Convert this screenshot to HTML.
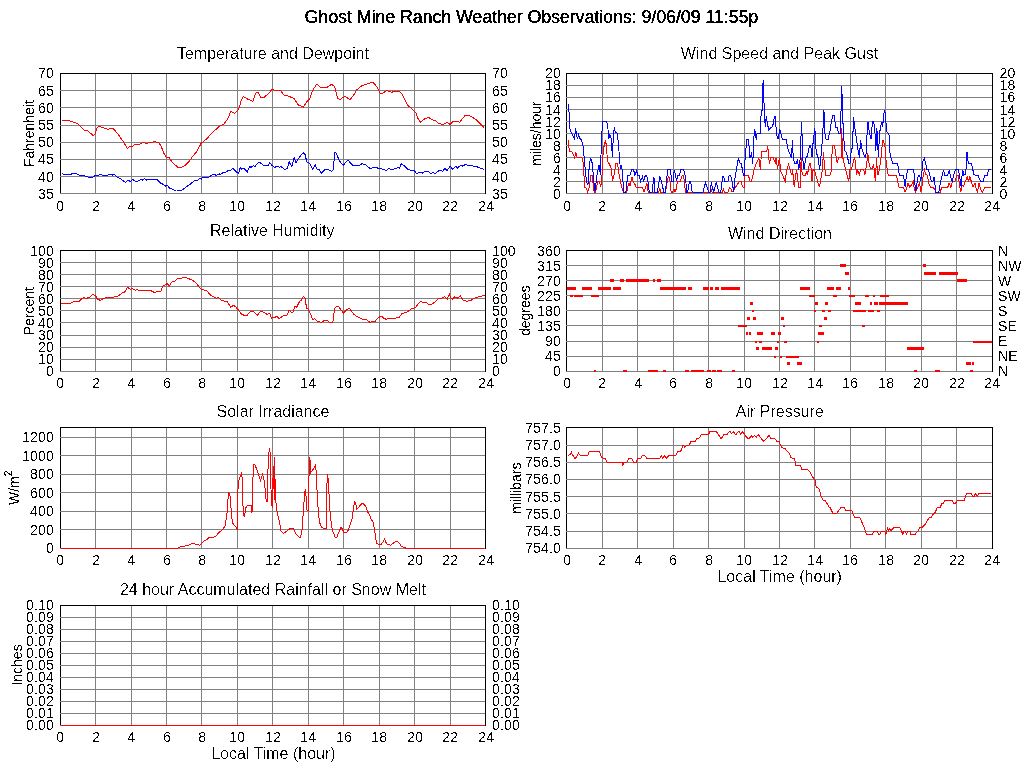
<!DOCTYPE html><html><head><meta charset="utf-8"><title>Ghost Mine Ranch Weather Observations</title>
<style>html,body{margin:0;padding:0;background:#fff}svg{display:block}text{font-family:"Liberation Sans",sans-serif;fill:#000}</style></head><body>
<svg width="1024" height="768" viewBox="0 0 1024 768">
<rect width="1024" height="768" fill="#fff"/>
<defs><filter id="th" x="0" y="0" width="1024" height="768" filterUnits="userSpaceOnUse" color-interpolation-filters="sRGB"><feComponentTransfer><feFuncA type="discrete" tableValues="0 0 0 1 1"/></feComponentTransfer></filter><filter id="thT" x="0" y="0" width="1024" height="768" filterUnits="userSpaceOnUse" color-interpolation-filters="sRGB"><feComponentTransfer><feFuncA type="discrete" tableValues="0 0 0 1 1"/></feComponentTransfer></filter><filter id="th14" x="0" y="0" width="1024" height="768" filterUnits="userSpaceOnUse" color-interpolation-filters="sRGB"><feComponentTransfer><feFuncA type="discrete" tableValues="0 0 0 0 0 0 0 0 0 0 0 1 1 1 1 1 1 1 1 1"/></feComponentTransfer></filter><filter id="thv" x="-50" y="-20" width="100" height="30" filterUnits="userSpaceOnUse" color-interpolation-filters="sRGB"><feComponentTransfer><feFuncA type="discrete" tableValues="0 1"/></feComponentTransfer></filter></defs>
<g stroke="#000" stroke-width="1" shape-rendering="crispEdges" fill="none"><line x1="60.5" y1="73.0" x2="60.5" y2="194.0"/></g>
<g stroke="#808080" stroke-width="1" shape-rendering="crispEdges">
<line x1="95.5" y1="73.5" x2="95.5" y2="193.5"/>
<line x1="131.5" y1="73.5" x2="131.5" y2="193.5"/>
<line x1="166.5" y1="73.5" x2="166.5" y2="193.5"/>
<line x1="201.5" y1="73.5" x2="201.5" y2="193.5"/>
<line x1="237.5" y1="73.5" x2="237.5" y2="193.5"/>
<line x1="272.5" y1="73.5" x2="272.5" y2="193.5"/>
<line x1="308.5" y1="73.5" x2="308.5" y2="193.5"/>
<line x1="343.5" y1="73.5" x2="343.5" y2="193.5"/>
<line x1="379.5" y1="73.5" x2="379.5" y2="193.5"/>
<line x1="414.5" y1="73.5" x2="414.5" y2="193.5"/>
<line x1="450.5" y1="73.5" x2="450.5" y2="193.5"/>
<line x1="60.0" y1="90.5" x2="485.5" y2="90.5"/>
<line x1="60.0" y1="107.5" x2="485.5" y2="107.5"/>
<line x1="60.0" y1="125.5" x2="485.5" y2="125.5"/>
<line x1="60.0" y1="142.5" x2="485.5" y2="142.5"/>
<line x1="60.0" y1="159.5" x2="485.5" y2="159.5"/>
<line x1="60.0" y1="176.5" x2="485.5" y2="176.5"/>
<line x1="60.0" y1="193.5" x2="485.5" y2="193.5"/>
</g>
<g stroke="#000" stroke-width="1" shape-rendering="crispEdges" fill="none">
<polyline points="60.0,73.5 485.5,73.5 485.5,194.0"/>
</g>
<polyline points="62.25,173.56 63.81,174.66 70.06,174.66 72.41,173.56 73.97,174.03 76.31,173.56 79.44,175.12 84.91,175.91 88.81,177.47 93.5,177.0 95.06,175.44 98.97,175.12 100.53,174.34 102.88,175.44 107.56,175.12 109.91,174.34 112.25,175.12 114.12,174.34 117.72,177.47 121.62,179.5 125.53,182.47 128.19,180.28 130.22,181.38 132.56,179.5 134.91,180.91 137.25,181.38 141.16,179.5 142.72,180.12 144.59,178.56 146.62,180.12 149.75,179.19 153.66,179.5 156.78,179.19 160.69,183.25 163.03,184.19 165.38,186.06 167.25,185.28 169.28,187.94 172.41,189.19 176.0,191.06 181.78,190.44 185.69,187.31 190.38,184.19 194.28,180.59 197.41,180.28 199.75,178.25 201.31,179.19 202.09,177.47 206.0,177.0 209.12,177.0 212.25,174.66 215.69,174.34 216.0,175.44 219.12,173.88 220.69,174.34 223.81,172.0 226.16,172.0 228.5,170.44 230.84,170.12 232.88,168.41 235.53,171.22 238.66,173.56 240.22,167.62 241.78,169.19 243.81,168.09 247.25,172.0 249.59,166.53 251.16,167.31 253.5,165.75 255.06,166.53 257.41,163.41 259.75,162.31 263.66,165.44 268.34,165.44 269.91,162.62 271.47,164.97 274.59,167.31 277.72,166.22 279.28,167.31 280.84,166.22 283.97,169.19 287.09,168.88 289.12,161.84 291.78,166.53 294.12,157.16 296.0,162.94 298.81,157.94 303.19,152.47 305.38,154.81 306.62,161.84 309.75,163.41 312.56,169.19 315.22,164.66 316.78,168.88 319.12,169.66 321.47,173.25 324.59,169.66 327.72,169.66 331.62,171.22 333.19,169.66 334.75,152.47 336.31,153.25 339.44,161.06 343.34,165.28 347.25,160.59 348.81,161.06 352.72,165.28 359.75,165.28 362.09,163.72 365.22,164.5 369.91,168.41 375.69,167.31 376.0,167.62 379.12,168.41 383.03,169.19 386.16,170.44 388.5,168.56 391.62,169.66 395.53,168.56 397.88,167.62 399.44,168.09 401.47,163.41 404.12,165.75 408.03,169.66 410.38,170.12 414.28,170.44 416.62,173.56 421.31,172.0 422.88,173.25 425.22,171.22 428.34,171.53 430.69,173.56 433.03,172.47 435.06,173.56 438.5,170.91 441.62,170.44 442.41,171.53 444.75,168.41 447.09,170.44 450.22,166.22 452.56,169.19 455.69,166.22 457.25,168.09 461.16,164.97 462.72,166.22 465.06,164.5 468.19,165.44 471.31,165.44 473.66,166.22 477.56,167.0 481.47,168.41 483.81,169.34" fill="none" stroke="#0000ff" stroke-width="1" shape-rendering="crispEdges" stroke-linejoin="miter"/>
<polyline points="62.25,120.44 67.72,120.44 71.62,121.53 77.09,123.25 84.12,130.12 87.25,130.44 93.19,135.59 95.06,133.72 96.94,128.25 98.97,126.22 102.88,127.78 107.56,129.34 112.56,128.25 114.59,130.12 118.5,134.81 123.19,141.53 127.56,148.56 129.44,146.53 132.56,146.22 134.91,144.34 138.03,145.12 142.72,142.62 146.62,143.41 151.31,142.31 154.75,141.53 159.12,143.09 161.47,147.0 163.81,153.25 166.16,157.16 169.28,157.62 172.41,162.62 177.88,167.31 181.78,167.31 185.69,164.97 189.59,161.06 191.94,157.16 196.62,151.69 201.31,143.09 206.0,139.5 210.69,134.5 215.69,129.34 216.0,129.5 219.91,125.91 223.81,124.34 227.72,118.88 230.84,111.38 234.44,113.41 237.88,110.28 239.44,107.16 241.31,100.12 243.34,96.53 247.25,98.88 252.72,101.38 255.84,93.09 258.19,92.31 260.53,97.0 264.44,97.0 268.34,93.88 271.94,89.19 275.38,90.44 280.06,89.97 283.97,95.12 288.66,96.22 294.12,98.56 298.03,104.81 303.5,107.16 306.62,101.69 309.75,98.56 312.88,89.97 316.78,84.19 320.69,87.31 326.94,87.31 331.62,84.19 334.75,86.84 337.56,98.56 340.22,99.34 344.91,96.22 350.06,99.66 353.5,95.44 356.62,89.97 361.31,86.06 366.78,84.19 372.25,82.16 375.69,84.81 376.0,86.06 377.56,87.62 379.91,93.09 383.03,93.09 386.94,90.44 391.62,92.31 395.53,91.06 399.44,91.22 401.78,93.88 404.91,100.12 408.03,105.59 411.94,108.72 415.84,112.94 418.19,118.88 420.53,122.31 423.66,119.34 428.34,117.31 432.25,119.66 435.38,120.75 438.5,123.25 443.19,124.66 447.09,122.31 450.22,124.66 452.56,121.69 457.25,121.22 459.59,122.31 465.06,115.44 468.19,115.28 472.09,117.0 476.0,119.66 479.91,123.56 483.81,127.47" fill="none" stroke="#ff0000" stroke-width="1" shape-rendering="crispEdges" stroke-linejoin="miter"/>
<g stroke="#000" stroke-width="1" shape-rendering="crispEdges" fill="none"><line x1="566.5" y1="73.0" x2="566.5" y2="194.0"/></g>
<g stroke="#808080" stroke-width="1" shape-rendering="crispEdges">
<line x1="602.5" y1="73.5" x2="602.5" y2="193.5"/>
<line x1="637.5" y1="73.5" x2="637.5" y2="193.5"/>
<line x1="673.5" y1="73.5" x2="673.5" y2="193.5"/>
<line x1="708.5" y1="73.5" x2="708.5" y2="193.5"/>
<line x1="744.5" y1="73.5" x2="744.5" y2="193.5"/>
<line x1="779.5" y1="73.5" x2="779.5" y2="193.5"/>
<line x1="814.5" y1="73.5" x2="814.5" y2="193.5"/>
<line x1="850.5" y1="73.5" x2="850.5" y2="193.5"/>
<line x1="885.5" y1="73.5" x2="885.5" y2="193.5"/>
<line x1="921.5" y1="73.5" x2="921.5" y2="193.5"/>
<line x1="956.5" y1="73.5" x2="956.5" y2="193.5"/>
<line x1="566.0" y1="85.5" x2="992.5" y2="85.5"/>
<line x1="566.0" y1="97.5" x2="992.5" y2="97.5"/>
<line x1="566.0" y1="109.5" x2="992.5" y2="109.5"/>
<line x1="566.0" y1="121.5" x2="992.5" y2="121.5"/>
<line x1="566.0" y1="133.5" x2="992.5" y2="133.5"/>
<line x1="566.0" y1="145.5" x2="992.5" y2="145.5"/>
<line x1="566.0" y1="157.5" x2="992.5" y2="157.5"/>
<line x1="566.0" y1="169.5" x2="992.5" y2="169.5"/>
<line x1="566.0" y1="181.5" x2="992.5" y2="181.5"/>
<line x1="566.0" y1="193.5" x2="992.5" y2="193.5"/>
</g>
<g stroke="#000" stroke-width="1" shape-rendering="crispEdges" fill="none">
<polyline points="566.0,73.5 992.5,73.5 992.5,194.0"/>
</g>
<polyline points="568.48,140.21 569.31,151.5 571.93,151.71 574.54,157.45 575.79,152.75 577.15,157.45 581.85,157.77 583.42,163.2 583.94,175.74 584.99,187.24 586.56,188.28 587.6,192.04 589.38,187.24 590.74,175.74 592.51,175.74 593.35,187.24 594.18,192.04 595.44,192.04 597.01,185.15 598.05,181.28 599.62,181.49 600.66,187.24 601.71,181.49 602.75,157.98 603.8,147.53 605.36,140.21 606.41,145.44 607.45,161.11 609.54,164.25 611.11,168.43 612.68,180.97 614.25,173.65 615.81,163.41 617.59,163.41 618.95,173.65 620.52,181.49 622.61,190.37 623.65,192.04 626.79,192.04 627.83,186.71 628.88,183.06 630.13,185.67 631.8,176.79 633.06,180.97 634.83,184.1 636.19,187.24 642.46,187.24 644.03,192.04 645.59,187.24 646.85,183.06 648.21,192.04 658.66,192.04 659.91,188.28 660.75,192.04 665.45,192.04 666.49,187.24 667.54,178.88 668.79,176.79 669.0,176.79 670.04,181.28 671.09,192.04 672.66,192.04 674.02,189.32 675.06,192.04 676.11,189.32 677.36,181.49 680.49,181.28 682.06,175.53 683.63,175.53 684.67,185.15 685.51,192.04 710.8,192.04 711.32,188.8 712.05,192.04 722.29,192.04 723.34,189.32 724.38,192.04 728.04,192.04 729.61,187.76 731.17,189.32 732.22,192.04 734.31,189.32 736.92,185.15 739.01,182.01 741.1,181.28 742.15,185.15 743.19,187.76 744.24,187.76 745.07,175.53 748.41,175.22 749.98,181.28 751.55,181.28 752.59,176.79 754.16,169.47 756.25,163.2 758.86,157.98 760.43,169.47 761.48,151.5 766.7,151.18 767.75,145.96 768.79,157.98 769.52,163.72 770.88,157.45 772.97,157.45 774.54,161.11 775.58,163.72 776.0,157.98 777.57,168.95 778.3,163.2 779.66,157.98 780.39,170.52 782.48,175.22 785.4,181.28 786.45,170.52 788.54,164.25 790.63,171.56 791.67,175.22 792.51,169.47 794.29,187.24 795.33,176.79 796.38,171.56 797.42,174.7 798.47,187.24 800.56,187.24 801.08,157.98 801.91,171.56 803.17,175.22 805.26,175.22 806.83,171.56 807.35,175.22 808.6,168.43 809.65,163.2 810.69,163.72 812.05,181.28 813.1,169.47 814.45,169.47 816.23,176.79 819.36,187.24 821.98,172.61 823.54,152.23 824.28,164.25 825.63,175.22 829.81,175.22 831.17,171.56 832.43,145.44 834.52,145.44 837.13,163.2 838.49,157.98 841.31,157.45 841.62,128.2 842.88,157.98 845.49,168.95 847.06,175.22 848.83,181.28 849.98,169.47 851.44,169.47 852.8,164.25 854.37,157.98 855.41,161.11 856.46,175.22 857.71,170.52 859.28,175.22 860.64,169.47 863.77,169.47 864.82,175.22 866.7,164.25 867.75,152.75 869.0,163.2 870.57,168.43 872.34,168.43 873.7,164.25 875.27,181.28 876.52,157.98 877.36,171.56 878.19,175.22 879.45,169.47 881.02,157.98 882.06,146.48 882.79,145.44 883.0,140.21 884.04,143.35 885.09,147.53 885.93,159.02 887.18,168.95 888.22,175.22 896.58,175.53 898.15,184.1 899.2,187.24 903.38,187.44 904.94,192.04 906.51,189.32 908.08,183.06 909.65,187.24 911.21,185.15 913.3,181.28 914.35,189.32 915.6,192.04 918.01,187.24 919.57,182.01 920.83,192.04 922.18,185.15 923.23,174.7 924.59,169.99 925.84,174.7 927.41,175.22 928.98,184.1 930.54,187.24 933.16,187.44 935.04,189.85 935.77,192.04 940.47,192.04 941.52,187.24 947.79,187.24 949.04,183.06 950.92,187.24 952.49,181.28 955.1,180.97 956.98,175.22 958.44,175.74 959.49,185.15 960.85,192.04 961.89,185.15 963.46,186.19 965.55,180.97 967.12,176.79 968.48,180.97 969.94,176.79 971.3,181.49 972.86,186.71 974.95,183.06 976.52,190.37 977.57,192.04 978.92,183.06 980.7,189.32 982.27,192.04 984.88,187.44 990.63,187.24" fill="none" stroke="#ff0000" stroke-width="1" shape-rendering="crispEdges" stroke-linejoin="miter"/>
<polyline points="568.56,104.03 569.03,112.62 569.52,113.04 569.52,126.63 570.57,131.33 572.45,134.47 574.54,139.17 575.58,128.2 577.46,139.38 578.51,134.15 579.97,138.65 581.33,139.69 582.59,143.35 583.63,150.66 584.47,162.16 585.51,171.56 586.56,182.01 587.91,185.15 589.38,164.25 590.74,157.98 592.51,164.25 593.35,176.79 594.92,191.41 597.01,174.7 599.1,164.77 600.45,174.7 601.5,137.08 602.75,121.61 606.41,121.61 607.66,124.54 608.71,139.38 609.86,134.47 611.11,138.12 612.47,156.93 613.41,131.85 614.46,128.51 615.5,132.38 617.38,133.42 618.43,144.39 619.47,156.93 620.31,168.43 621.35,164.77 622.4,171.56 623.65,192.04 625.95,192.04 627.62,175.53 629.92,175.22 631.8,169.47 633.58,169.47 634.83,175.22 636.5,170.52 637.76,175.22 639.12,175.74 640.58,181.28 642.46,176.79 643.71,180.97 645.28,175.53 646.85,175.74 647.89,181.28 649.25,192.04 652.07,192.04 653.95,176.79 654.79,192.04 657.3,192.04 659.91,176.26 661.27,181.28 663.88,192.04 665.45,192.04 666.49,181.28 667.54,169.99 668.79,169.47 669.0,169.47 670.57,169.47 671.61,181.28 673.18,181.28 674.22,169.99 675.48,174.7 676.52,181.28 677.88,175.53 679.45,175.22 681.02,169.47 683.63,169.47 684.67,172.61 685.72,178.88 686.55,192.04 687.6,192.04 689.38,181.49 690.73,181.49 691.78,190.37 692.82,192.04 702.96,192.04 705.57,182.53 707.14,187.24 708.5,192.04 709.96,192.04 711.32,182.53 712.36,187.24 713.72,192.04 714.98,187.24 716.23,182.53 717.59,187.24 718.95,192.04 720.72,192.04 721.77,183.06 722.81,176.79 723.55,176.79 724.9,181.28 728.04,181.28 729.08,175.74 730.65,175.74 731.7,178.88 732.95,187.24 733.79,192.04 734.62,179.92 735.88,172.61 736.92,166.34 738.49,157.98 740.06,163.2 741.31,163.2 742.67,171.56 743.4,175.53 744.44,175.53 744.76,164.25 745.49,152.75 746.85,139.69 748.41,139.38 748.94,145.44 749.98,157.45 750.71,157.45 751.55,152.23 752.59,163.72 753.43,151.71 753.85,137.6 754.68,128.72 756.25,139.69 756.98,133.94 760.12,133.42 760.12,126.75 761.38,111.12 762.25,110.5 762.62,84.88 763.62,79.88 763.88,103.0 764.5,103.62 765.12,126.75 766.38,116.12 767.25,123.0 768.88,130.5 770.75,127.38 772.62,126.75 774.5,116.12 775.75,116.12 776.0,126.75 776.0,127.67 777.04,136.03 778.3,139.38 779.66,128.72 781.02,134.47 782.48,139.38 786.45,139.38 787.7,148.57 790.11,154.32 791.46,157.45 792.51,140.21 793.24,157.98 794.6,163.2 796.38,163.2 797.42,159.02 798.78,169.47 800.24,157.98 800.87,139.17 801.6,121.93 802.65,153.8 803.38,168.95 804.42,168.95 805.47,159.02 807.35,155.89 809.65,145.44 810.69,145.44 812.05,156.93 813.1,142.3 814.87,128.51 816.23,153.27 817.8,155.89 819.68,169.47 820.93,156.93 821.98,144.39 823.02,127.67 823.5,109.88 824.38,113.62 824.62,126.75 824.9,133.42 826.16,139.38 828.04,139.38 829.81,131.85 831.38,121.93 832.95,115.66 834.31,115.66 835.56,127.67 837.13,127.67 838.7,133.42 840.58,133.42 841.5,86.12 842.25,97.38 842.75,123.0 843.75,123.0 843.92,140.21 844.97,151.18 846.53,152.75 848.83,163.2 849.98,163.2 851.03,152.75 852.49,146.48 853.53,116.7 854.89,127.67 856.46,139.38 858.55,153.8 859.59,157.45 860.43,140.21 861.89,148.57 864.82,156.93 865.86,157.45 866.7,139.38 867.95,121.93 869.52,133.42 871.3,139.38 872.34,121.93 873.7,121.93 874.75,127.67 875.79,151.18 876.84,128.2 878.4,157.45 879.45,133.94 881.02,124.54 882.06,121.93 882.79,126.63 883.5,114.88 884.75,109.88 885.62,115.5 886.0,123.0 886.97,131.85 888.22,133.42 889.48,136.56 889.79,152.23 890.84,157.45 892.93,163.2 897.42,163.41 898.67,168.43 899.2,175.22 903.38,175.53 904.42,180.97 905.15,187.24 905.99,178.88 907.56,169.47 913.3,169.47 914.35,175.22 915.39,190.37 916.23,189.32 917.48,178.88 918.74,175.22 919.78,175.53 920.62,181.28 921.87,172.61 922.71,162.16 924.27,157.98 925.84,164.25 926.89,169.26 928.45,169.47 929.81,174.7 931.28,181.28 932.95,181.28 934.2,176.79 935.04,185.15 935.77,192.04 938.9,192.04 939.95,185.15 941.31,178.88 942.56,173.65 943.61,169.99 944.86,175.53 947.58,175.22 949.04,170.52 950.92,177.83 952.17,181.28 954.06,173.65 955.62,169.47 958.24,169.47 959.28,173.65 960.32,180.97 961.16,187.24 961.89,176.79 962.94,170.52 963.67,175.22 965.03,174.7 966.07,168.95 966.59,152.75 967.43,152.23 968.16,163.2 971.3,163.41 972.34,167.38 973.91,174.7 978.09,175.53 979.34,178.88 980.39,181.28 983.1,181.28 984.88,175.53 987.49,175.22 988.54,169.47 990.63,169.26" fill="none" stroke="#0000ff" stroke-width="1" shape-rendering="crispEdges" stroke-linejoin="miter"/>
<g stroke="#000" stroke-width="1" shape-rendering="crispEdges" fill="none"><line x1="60.5" y1="250.0" x2="60.5" y2="372.0"/></g>
<g stroke="#808080" stroke-width="1" shape-rendering="crispEdges">
<line x1="95.5" y1="250.5" x2="95.5" y2="371.5"/>
<line x1="131.5" y1="250.5" x2="131.5" y2="371.5"/>
<line x1="166.5" y1="250.5" x2="166.5" y2="371.5"/>
<line x1="201.5" y1="250.5" x2="201.5" y2="371.5"/>
<line x1="237.5" y1="250.5" x2="237.5" y2="371.5"/>
<line x1="272.5" y1="250.5" x2="272.5" y2="371.5"/>
<line x1="308.5" y1="250.5" x2="308.5" y2="371.5"/>
<line x1="343.5" y1="250.5" x2="343.5" y2="371.5"/>
<line x1="379.5" y1="250.5" x2="379.5" y2="371.5"/>
<line x1="414.5" y1="250.5" x2="414.5" y2="371.5"/>
<line x1="450.5" y1="250.5" x2="450.5" y2="371.5"/>
<line x1="60.0" y1="262.5" x2="485.5" y2="262.5"/>
<line x1="60.0" y1="274.5" x2="485.5" y2="274.5"/>
<line x1="60.0" y1="286.5" x2="485.5" y2="286.5"/>
<line x1="60.0" y1="298.5" x2="485.5" y2="298.5"/>
<line x1="60.0" y1="310.5" x2="485.5" y2="310.5"/>
<line x1="60.0" y1="322.5" x2="485.5" y2="322.5"/>
<line x1="60.0" y1="335.5" x2="485.5" y2="335.5"/>
<line x1="60.0" y1="347.5" x2="485.5" y2="347.5"/>
<line x1="60.0" y1="359.5" x2="485.5" y2="359.5"/>
<line x1="60.0" y1="371.5" x2="485.5" y2="371.5"/>
</g>
<g stroke="#000" stroke-width="1" shape-rendering="crispEdges" fill="none">
<polyline points="60.0,250.5 485.5,250.5 485.5,372.0"/>
</g>
<polyline points="61.47,303.44 70.06,303.44 74.75,301.41 79.44,301.09 83.34,297.5 86.47,298.28 89.59,297.5 92.72,294.38 95.84,296.25 97.41,299.38 100.53,300.31 103.66,298.28 108.34,297.5 112.25,297.97 114.59,296.72 118.5,295.94 122.41,292.81 124.75,292.03 127.56,287.34 130.22,289.38 132.56,288.44 134.91,290.16 137.25,289.69 141.94,290.94 145.84,290.16 148.19,290.94 150.53,290.47 154.44,292.5 157.56,291.72 160.69,291.72 163.03,285.78 165.38,284.69 167.25,283.44 169.28,286.25 171.62,282.19 174.75,281.09 177.09,278.75 181.0,278.44 184.91,277.19 188.81,278.75 192.72,280.31 195.84,282.66 198.97,286.88 201.31,289.38 204.44,290.16 206.78,290.94 210.69,295.16 215.69,297.81 216.0,298.28 218.34,297.5 221.47,300.62 226.94,301.41 230.84,307.34 233.19,305.31 235.53,306.56 238.66,310.31 241.78,314.38 244.91,315.47 247.25,315.16 250.38,311.56 253.5,311.25 257.41,315.47 260.53,311.25 263.66,312.34 266.78,314.22 269.91,313.59 271.47,318.12 274.59,317.5 276.94,316.25 279.28,318.59 282.41,316.25 287.09,315.0 289.12,310.31 291.78,312.34 293.34,311.88 294.91,306.09 296.47,307.66 299.59,301.41 301.16,300.62 303.5,296.41 305.06,298.28 306.62,308.44 308.19,309.22 310.53,313.91 312.56,319.38 314.75,318.59 317.56,321.72 321.47,322.19 324.59,320.47 326.94,320.47 329.28,322.19 332.88,322.19 334.44,309.22 336.31,306.41 338.66,306.41 343.34,313.12 347.25,309.22 349.59,308.75 353.5,313.91 356.62,316.25 361.31,318.91 366.0,319.38 369.91,322.19 375.69,321.41 376.0,320.16 378.34,317.5 381.47,316.25 383.81,318.12 386.16,319.38 389.28,318.28 395.53,318.12 399.44,317.03 401.78,313.91 407.25,312.03 411.16,308.91 415.84,307.34 418.19,303.75 420.53,301.41 422.88,302.5 426.0,302.5 429.12,304.53 432.25,304.06 434.59,302.19 438.5,298.59 442.41,297.97 444.75,296.72 447.09,299.38 449.44,294.06 450.69,297.5 452.56,299.06 454.91,296.72 457.25,298.28 460.38,295.62 462.72,299.84 466.62,301.41 471.31,300.31 473.66,298.28 479.12,296.72 484.59,295.16" fill="none" stroke="#ff0000" stroke-width="1" shape-rendering="crispEdges" stroke-linejoin="miter"/>
<g stroke="#000" stroke-width="1" shape-rendering="crispEdges" fill="none"><line x1="566.5" y1="250.0" x2="566.5" y2="372.0"/></g>
<g stroke="#808080" stroke-width="1" shape-rendering="crispEdges">
<line x1="602.5" y1="250.5" x2="602.5" y2="371.5"/>
<line x1="637.5" y1="250.5" x2="637.5" y2="371.5"/>
<line x1="673.5" y1="250.5" x2="673.5" y2="371.5"/>
<line x1="708.5" y1="250.5" x2="708.5" y2="371.5"/>
<line x1="744.5" y1="250.5" x2="744.5" y2="371.5"/>
<line x1="779.5" y1="250.5" x2="779.5" y2="371.5"/>
<line x1="814.5" y1="250.5" x2="814.5" y2="371.5"/>
<line x1="850.5" y1="250.5" x2="850.5" y2="371.5"/>
<line x1="885.5" y1="250.5" x2="885.5" y2="371.5"/>
<line x1="921.5" y1="250.5" x2="921.5" y2="371.5"/>
<line x1="956.5" y1="250.5" x2="956.5" y2="371.5"/>
<line x1="566.0" y1="265.5" x2="992.5" y2="265.5"/>
<line x1="566.0" y1="280.5" x2="992.5" y2="280.5"/>
<line x1="566.0" y1="295.5" x2="992.5" y2="295.5"/>
<line x1="566.0" y1="310.5" x2="992.5" y2="310.5"/>
<line x1="566.0" y1="325.5" x2="992.5" y2="325.5"/>
<line x1="566.0" y1="341.5" x2="992.5" y2="341.5"/>
<line x1="566.0" y1="356.5" x2="992.5" y2="356.5"/>
<line x1="566.0" y1="371.5" x2="992.5" y2="371.5"/>
</g>
<g stroke="#000" stroke-width="1" shape-rendering="crispEdges" fill="none">
<polyline points="566.0,250.5 992.5,250.5 992.5,372.0"/>
</g>
<g fill="#ff0000" shape-rendering="crispEdges">
<rect x="610" y="279" width="4" height="3"/>
<rect x="620" y="279" width="4" height="3"/>
<rect x="626" y="279" width="23" height="3"/>
<rect x="653" y="279" width="2" height="3"/>
<rect x="657" y="279" width="4" height="3"/>
<rect x="957" y="279" width="10" height="3"/>
<rect x="567" y="287" width="9" height="3"/>
<rect x="582" y="287" width="10" height="3"/>
<rect x="598" y="287" width="13" height="3"/>
<rect x="613" y="287" width="8" height="3"/>
<rect x="660" y="287" width="26" height="3"/>
<rect x="688" y="287" width="4" height="3"/>
<rect x="703" y="287" width="6" height="3"/>
<rect x="710" y="287" width="3" height="3"/>
<rect x="715" y="287" width="4" height="3"/>
<rect x="721" y="287" width="1" height="3"/>
<rect x="722" y="287" width="18" height="3"/>
<rect x="800" y="287" width="10" height="3"/>
<rect x="827" y="287" width="7" height="3"/>
<rect x="836" y="287" width="5" height="3"/>
<rect x="848" y="287" width="2" height="3"/>
<rect x="570" y="295" width="3" height="2"/>
<rect x="574" y="295" width="9" height="2"/>
<rect x="591" y="295" width="8" height="2"/>
<rect x="809" y="295" width="6" height="2"/>
<rect x="833" y="295" width="4" height="2"/>
<rect x="849" y="295" width="6" height="2"/>
<rect x="865" y="295" width="4" height="2"/>
<rect x="873" y="295" width="2" height="2"/>
<rect x="880" y="295" width="9" height="2"/>
<rect x="594" y="370" width="2" height="2"/>
<rect x="623" y="370" width="4" height="2"/>
<rect x="648" y="370" width="10" height="2"/>
<rect x="663" y="370" width="3" height="2"/>
<rect x="685" y="370" width="4" height="2"/>
<rect x="691" y="370" width="13" height="2"/>
<rect x="707" y="370" width="4" height="2"/>
<rect x="712" y="370" width="4" height="2"/>
<rect x="717" y="370" width="5" height="2"/>
<rect x="732" y="370" width="3" height="2"/>
<rect x="914" y="370" width="3" height="2"/>
<rect x="935" y="370" width="5" height="2"/>
<rect x="970" y="370" width="3" height="2"/>
<rect x="840" y="264" width="6" height="3"/>
<rect x="923" y="264" width="3" height="3"/>
<rect x="845" y="272" width="4" height="3"/>
<rect x="924" y="272" width="12" height="3"/>
<rect x="939" y="272" width="19" height="3"/>
<rect x="750" y="302" width="3" height="3"/>
<rect x="815" y="302" width="3" height="3"/>
<rect x="825" y="302" width="3" height="3"/>
<rect x="855" y="302" width="6" height="3"/>
<rect x="870" y="302" width="2" height="3"/>
<rect x="874" y="302" width="4" height="3"/>
<rect x="879" y="302" width="29" height="3"/>
<rect x="752" y="310" width="2" height="2"/>
<rect x="814" y="310" width="2" height="2"/>
<rect x="822" y="310" width="3" height="2"/>
<rect x="828" y="310" width="3" height="2"/>
<rect x="853" y="310" width="11" height="2"/>
<rect x="864" y="310" width="2" height="2"/>
<rect x="868" y="310" width="6" height="2"/>
<rect x="877" y="310" width="3" height="2"/>
<rect x="747" y="317" width="3" height="3"/>
<rect x="753" y="317" width="3" height="3"/>
<rect x="781" y="317" width="3" height="3"/>
<rect x="824" y="317" width="3" height="3"/>
<rect x="738" y="325" width="9" height="2"/>
<rect x="783" y="325" width="2" height="2"/>
<rect x="819" y="325" width="3" height="2"/>
<rect x="862" y="325" width="2" height="2"/>
<rect x="864" y="325" width="1" height="2"/>
<rect x="746" y="332" width="2" height="3"/>
<rect x="749" y="332" width="2" height="3"/>
<rect x="757" y="332" width="6" height="3"/>
<rect x="771" y="332" width="4" height="3"/>
<rect x="778" y="332" width="3" height="3"/>
<rect x="818" y="332" width="6" height="3"/>
<rect x="755" y="341" width="2" height="2"/>
<rect x="759" y="341" width="3" height="2"/>
<rect x="777" y="341" width="2" height="2"/>
<rect x="784" y="341" width="3" height="2"/>
<rect x="817" y="341" width="2" height="2"/>
<rect x="973" y="341" width="19" height="2"/>
<rect x="756" y="347" width="3" height="3"/>
<rect x="762" y="347" width="10" height="3"/>
<rect x="775" y="347" width="3" height="3"/>
<rect x="907" y="347" width="17" height="3"/>
<rect x="774" y="356" width="2" height="2"/>
<rect x="780" y="356" width="2" height="2"/>
<rect x="786" y="356" width="13" height="2"/>
<rect x="787" y="362" width="3" height="3"/>
<rect x="797" y="362" width="5" height="3"/>
<rect x="966" y="362" width="5" height="3"/>
<rect x="972" y="362" width="2" height="3"/>
</g>
<g stroke="#000" stroke-width="1" shape-rendering="crispEdges" fill="none"><line x1="60.5" y1="427.0" x2="60.5" y2="549.0"/></g>
<g stroke="#808080" stroke-width="1" shape-rendering="crispEdges">
<line x1="95.5" y1="427.5" x2="95.5" y2="548.5"/>
<line x1="131.5" y1="427.5" x2="131.5" y2="548.5"/>
<line x1="166.5" y1="427.5" x2="166.5" y2="548.5"/>
<line x1="201.5" y1="427.5" x2="201.5" y2="548.5"/>
<line x1="237.5" y1="427.5" x2="237.5" y2="548.5"/>
<line x1="272.5" y1="427.5" x2="272.5" y2="548.5"/>
<line x1="308.5" y1="427.5" x2="308.5" y2="548.5"/>
<line x1="343.5" y1="427.5" x2="343.5" y2="548.5"/>
<line x1="379.5" y1="427.5" x2="379.5" y2="548.5"/>
<line x1="414.5" y1="427.5" x2="414.5" y2="548.5"/>
<line x1="450.5" y1="427.5" x2="450.5" y2="548.5"/>
<line x1="60.0" y1="437.5" x2="485.5" y2="437.5"/>
<line x1="60.0" y1="455.5" x2="485.5" y2="455.5"/>
<line x1="60.0" y1="474.5" x2="485.5" y2="474.5"/>
<line x1="60.0" y1="492.5" x2="485.5" y2="492.5"/>
<line x1="60.0" y1="511.5" x2="485.5" y2="511.5"/>
<line x1="60.0" y1="529.5" x2="485.5" y2="529.5"/>
<line x1="60.0" y1="548.5" x2="485.5" y2="548.5"/>
</g>
<g stroke="#000" stroke-width="1" shape-rendering="crispEdges" fill="none">
<polyline points="60.0,427.5 485.5,427.5 485.5,549.0"/>
</g>
<polyline points="61.5,548.0 166.0,548.28 176.94,548.28 181.62,546.41 187.88,545.62 192.56,543.28 195.69,544.38 199.59,545.16 203.5,541.25 207.41,539.06 209.75,537.03 212.09,537.81 216.0,535.94 219.91,531.56 222.25,530.0 225.06,526.09 226.94,514.38 228.03,498.75 228.81,492.5 230.06,496.41 231.31,511.25 232.41,522.97 234.75,525.62 237.09,528.44 237.56,508.12 238.19,482.34 239.44,478.44 241.47,473.75 242.56,480.0 243.03,506.56 243.66,515.94 244.59,516.72 245.69,508.12 247.25,505.78 248.81,505.47 251.16,505.78 251.62,512.03 252.41,511.25 252.72,484.69 253.5,464.38 254.75,464.38 256.62,469.06 258.97,476.09 260.53,480.31 262.56,474.53 264.12,480.0 265.22,490.16 266.31,501.88 267.25,501.88 267.88,472.19 268.66,454.22 269.44,448.44 270.38,455.0 271.0,489.38 271.94,505.78 272.56,508.12 273.19,467.5 273.81,466.72 274.12,499.53 274.44,456.56 275.06,480.0 276.16,506.56 277.72,515.16 279.28,520.62 280.84,530.78 283.19,533.44 286.31,531.56 290.22,528.44 293.34,528.44 295.69,533.91 298.03,535.94 299.59,537.5 300.0,538.12 301.88,531.56 303.12,514.38 304.69,492.5 305.47,489.38 306.25,498.75 307.03,510.47 308.12,510.47 308.91,481.56 309.38,457.34 310.31,461.25 310.94,472.19 313.28,469.06 315.31,465.16 316.41,472.19 317.19,495.62 318.28,511.25 319.53,522.19 321.41,526.88 323.44,528.44 326.25,528.44 326.56,489.38 327.66,474.53 328.59,484.69 329.69,508.12 331.25,523.75 332.81,531.56 335.16,537.03 337.03,537.03 339.06,531.56 340.94,527.66 342.19,528.44 343.75,532.34 346.88,532.34 348.44,530.0 350.0,525.31 352.34,517.5 353.91,505.0 354.69,502.19 355.78,503.44 356.56,508.91 358.59,507.34 361.72,503.44 364.06,504.22 366.41,507.34 367.19,511.25 369.53,515.16 371.09,519.06 373.44,522.97 375.0,533.12 376.56,543.28 378.91,544.38 381.25,544.06 383.59,540.94 384.69,538.59 385.94,542.5 387.5,544.38 390.62,545.31 394.53,542.19 396.88,541.25 399.22,543.28 401.56,546.41 406.25,548.28 484.0,548.3" fill="none" stroke="#ff0000" stroke-width="1" shape-rendering="crispEdges" stroke-linejoin="miter"/>
<g stroke="#000" stroke-width="1" shape-rendering="crispEdges" fill="none"><line x1="566.5" y1="427.0" x2="566.5" y2="549.0"/></g>
<g stroke="#808080" stroke-width="1" shape-rendering="crispEdges">
<line x1="602.5" y1="427.5" x2="602.5" y2="548.5"/>
<line x1="637.5" y1="427.5" x2="637.5" y2="548.5"/>
<line x1="673.5" y1="427.5" x2="673.5" y2="548.5"/>
<line x1="708.5" y1="427.5" x2="708.5" y2="548.5"/>
<line x1="744.5" y1="427.5" x2="744.5" y2="548.5"/>
<line x1="779.5" y1="427.5" x2="779.5" y2="548.5"/>
<line x1="814.5" y1="427.5" x2="814.5" y2="548.5"/>
<line x1="850.5" y1="427.5" x2="850.5" y2="548.5"/>
<line x1="885.5" y1="427.5" x2="885.5" y2="548.5"/>
<line x1="921.5" y1="427.5" x2="921.5" y2="548.5"/>
<line x1="956.5" y1="427.5" x2="956.5" y2="548.5"/>
<line x1="566.0" y1="445.5" x2="992.5" y2="445.5"/>
<line x1="566.0" y1="462.5" x2="992.5" y2="462.5"/>
<line x1="566.0" y1="479.5" x2="992.5" y2="479.5"/>
<line x1="566.0" y1="496.5" x2="992.5" y2="496.5"/>
<line x1="566.0" y1="513.5" x2="992.5" y2="513.5"/>
<line x1="566.0" y1="531.5" x2="992.5" y2="531.5"/>
<line x1="566.0" y1="548.5" x2="992.5" y2="548.5"/>
</g>
<g stroke="#000" stroke-width="1" shape-rendering="crispEdges" fill="none">
<polyline points="566.0,427.5 992.5,427.5 992.5,549.0"/>
</g>
<polyline points="568.25,455.47 569.81,454.69 571.38,452.34 572.94,455.47 574.81,458.59 576.38,457.03 578.41,452.81 579.97,455.0 581.53,455.47 587.78,455.47 589.34,451.56 599.5,451.56 601.84,457.81 604.97,458.28 607.0,462.19 622.16,462.19 622.94,465.31 623.72,462.5 626.84,462.19 628.88,458.28 631.53,458.28 633.88,462.19 636.22,462.19 637.78,458.59 640.91,458.28 642.47,455.47 644.81,455.47 646.69,458.28 659.66,458.28 661.22,455.47 662.78,458.28 664.34,455.47 666.38,458.28 669.03,455.47 676.06,455.16 677.94,451.56 680.75,451.25 683.09,445.31 684.97,447.34 686.22,445.31 689.34,445.0 690.91,441.41 695.59,441.09 696.69,438.28 699.5,437.97 701.38,434.69 705.44,434.53 706.0,434.69 708.66,434.38 709.91,431.25 716.16,431.25 718.5,434.69 721.16,438.59 723.97,434.69 727.09,434.38 729.75,431.25 731.78,433.59 733.34,431.56 735.69,434.69 738.81,431.25 740.69,434.06 742.72,431.56 745.06,435.16 747.88,438.59 749.75,437.97 751.62,435.62 752.88,437.19 754.75,435.62 756.31,437.19 758.34,434.69 760.69,437.81 763.81,441.41 766.16,439.06 768.97,435.16 770.84,438.28 774.75,438.59 777.09,441.41 779.12,441.72 781.78,447.66 784.91,448.44 787.25,451.56 788.81,452.34 791.16,457.81 794.75,458.59 795.38,465.31 800.53,465.62 801.62,469.22 807.56,469.53 810.38,472.66 813.81,478.91 814.91,479.69 816.16,486.72 819.28,489.06 821.31,496.88 822.88,500.0 825.53,500.78 828.66,506.56 830.22,507.81 832.88,513.28 836.94,513.28 838.81,510.16 841.16,507.34 844.28,507.34 845.84,510.16 849.44,510.31 850.0,510.31 851.88,510.78 854.38,517.34 859.69,517.66 862.19,522.81 864.38,527.81 866.41,534.22 872.66,534.22 873.75,531.41 877.34,531.41 878.59,534.22 880.0,534.22 881.25,531.41 884.69,531.41 885.94,534.22 887.5,528.28 888.59,530.62 889.84,528.28 890.94,530.62 893.75,527.5 899.69,527.5 901.56,531.41 902.66,534.22 903.91,531.41 905.47,531.88 906.56,534.22 907.81,531.41 910.16,531.41 910.94,534.22 915.31,534.22 917.19,531.41 918.44,530.62 919.84,527.5 922.19,527.5 925.78,523.59 928.91,517.81 931.25,517.34 933.59,513.75 935.16,512.66 937.19,507.5 940.31,507.19 941.88,503.59 943.44,503.28 945.0,500.47 952.34,500.47 953.91,503.59 955.47,503.59 957.03,500.62 964.06,500.47 966.41,493.44 971.09,493.44 972.66,496.25 974.22,496.25 975.47,493.44 977.34,496.25 978.91,493.44 990.62,493.44" fill="none" stroke="#ff0000" stroke-width="1" shape-rendering="crispEdges" stroke-linejoin="miter"/>
<g stroke="#000" stroke-width="1" shape-rendering="crispEdges" fill="none"><line x1="60.5" y1="605.0" x2="60.5" y2="726.0"/></g>
<g stroke="#808080" stroke-width="1" shape-rendering="crispEdges">
<line x1="95.5" y1="605.5" x2="95.5" y2="725.5"/>
<line x1="131.5" y1="605.5" x2="131.5" y2="725.5"/>
<line x1="166.5" y1="605.5" x2="166.5" y2="725.5"/>
<line x1="201.5" y1="605.5" x2="201.5" y2="725.5"/>
<line x1="237.5" y1="605.5" x2="237.5" y2="725.5"/>
<line x1="272.5" y1="605.5" x2="272.5" y2="725.5"/>
<line x1="308.5" y1="605.5" x2="308.5" y2="725.5"/>
<line x1="343.5" y1="605.5" x2="343.5" y2="725.5"/>
<line x1="379.5" y1="605.5" x2="379.5" y2="725.5"/>
<line x1="414.5" y1="605.5" x2="414.5" y2="725.5"/>
<line x1="450.5" y1="605.5" x2="450.5" y2="725.5"/>
<line x1="60.0" y1="617.5" x2="485.5" y2="617.5"/>
<line x1="60.0" y1="629.5" x2="485.5" y2="629.5"/>
<line x1="60.0" y1="641.5" x2="485.5" y2="641.5"/>
<line x1="60.0" y1="653.5" x2="485.5" y2="653.5"/>
<line x1="60.0" y1="665.5" x2="485.5" y2="665.5"/>
<line x1="60.0" y1="677.5" x2="485.5" y2="677.5"/>
<line x1="60.0" y1="689.5" x2="485.5" y2="689.5"/>
<line x1="60.0" y1="701.5" x2="485.5" y2="701.5"/>
<line x1="60.0" y1="713.5" x2="485.5" y2="713.5"/>
<line x1="60.0" y1="725.5" x2="485.5" y2="725.5"/>
</g>
<g stroke="#000" stroke-width="1" shape-rendering="crispEdges" fill="none">
<polyline points="60.0,605.5 485.5,605.5 485.5,726.0"/>
</g>
<polyline points="61,725.5 485,725.5" fill="none" stroke="#ff0000" stroke-width="1" shape-rendering="crispEdges" stroke-linejoin="miter"/>
<g filter="url(#thT)"><text x="531.1" y="22.5" font-size="17.7" text-anchor="middle">Ghost Mine Ranch Weather Observations: 9/06/09 11:55p</text><text x="531.9" y="22.5" font-size="17.7" text-anchor="middle">Ghost Mine Ranch Weather Observations: 9/06/09 11:55p</text></g>
<g filter="url(#th)">
<text x="273" y="59" font-size="16" text-anchor="middle" >Temperature and Dewpoint</text>
<text x="779.6" y="59" font-size="16" text-anchor="middle" >Wind Speed and Peak Gust</text>
<text x="272.3" y="235.7" font-size="16" text-anchor="middle" >Relative Humidity</text>
<text x="780" y="238.75" font-size="16" text-anchor="middle" >Wind Direction</text>
<text x="273" y="417" font-size="16" text-anchor="middle" >Solar Irradiance</text>
<text x="779.8" y="417" font-size="16" text-anchor="middle" >Air Pressure</text>
<text x="779.7" y="581.7" font-size="16" text-anchor="middle" >Local Time (hour)</text>
<text x="272.9" y="594.5" font-size="16" text-anchor="middle" >24 hour Accumulated Rainfall or Snow Melt</text>
<text x="273.4" y="758.6" font-size="16" text-anchor="middle" >Local Time (hour)</text>
</g>
<g filter="url(#th14)">
<text x="54" y="78" font-size="14" text-anchor="end" letter-spacing="0.2" >70</text>
<text x="491.9" y="78" font-size="14" text-anchor="start" letter-spacing="0.2" >70</text>
<text x="54" y="96" font-size="14" text-anchor="end" letter-spacing="0.2" >65</text>
<text x="491.9" y="96" font-size="14" text-anchor="start" letter-spacing="0.2" >65</text>
<text x="54" y="113" font-size="14" text-anchor="end" letter-spacing="0.2" >60</text>
<text x="491.9" y="113" font-size="14" text-anchor="start" letter-spacing="0.2" >60</text>
<text x="54" y="130" font-size="14" text-anchor="end" letter-spacing="0.2" >55</text>
<text x="491.9" y="130" font-size="14" text-anchor="start" letter-spacing="0.2" >55</text>
<text x="54" y="147" font-size="14" text-anchor="end" letter-spacing="0.2" >50</text>
<text x="491.9" y="147" font-size="14" text-anchor="start" letter-spacing="0.2" >50</text>
<text x="54" y="164" font-size="14" text-anchor="end" letter-spacing="0.2" >45</text>
<text x="491.9" y="164" font-size="14" text-anchor="start" letter-spacing="0.2" >45</text>
<text x="54" y="182" font-size="14" text-anchor="end" letter-spacing="0.2" >40</text>
<text x="491.9" y="182" font-size="14" text-anchor="start" letter-spacing="0.2" >40</text>
<text x="54" y="199" font-size="14" text-anchor="end" letter-spacing="0.2" >35</text>
<text x="491.9" y="199" font-size="14" text-anchor="start" letter-spacing="0.2" >35</text>
<text x="56.35" y="210.5" font-size="14" text-anchor="start" letter-spacing="0.21">0</text>
<text x="92.35" y="210.5" font-size="14" text-anchor="start" letter-spacing="0.21">2</text>
<text x="127.35" y="210.5" font-size="14" text-anchor="start" letter-spacing="0.21">4</text>
<text x="163.35" y="210.5" font-size="14" text-anchor="start" letter-spacing="0.21">6</text>
<text x="198.35" y="210.5" font-size="14" text-anchor="start" letter-spacing="0.21">8</text>
<text x="229.35" y="210.5" font-size="14" text-anchor="start" letter-spacing="0.21">10</text>
<text x="265.35" y="210.5" font-size="14" text-anchor="start" letter-spacing="0.21">12</text>
<text x="300.35" y="210.5" font-size="14" text-anchor="start" letter-spacing="0.21">14</text>
<text x="336.35" y="210.5" font-size="14" text-anchor="start" letter-spacing="0.21">16</text>
<text x="371.35" y="210.5" font-size="14" text-anchor="start" letter-spacing="0.21">18</text>
<text x="407.35" y="210.5" font-size="14" text-anchor="start" letter-spacing="0.21">20</text>
<text x="442.35" y="210.5" font-size="14" text-anchor="start" letter-spacing="0.21">22</text>
<text x="478.35" y="210.5" font-size="14" text-anchor="start" letter-spacing="0.21">24</text>
<text x="561" y="78" font-size="14" text-anchor="end" letter-spacing="0.2" >20</text>
<text x="999.4" y="78" font-size="14" text-anchor="start" letter-spacing="0.2" >20</text>
<text x="561" y="90" font-size="14" text-anchor="end" letter-spacing="0.2" >18</text>
<text x="999.4" y="90" font-size="14" text-anchor="start" letter-spacing="0.2" >18</text>
<text x="561" y="102" font-size="14" text-anchor="end" letter-spacing="0.2" >16</text>
<text x="999.4" y="102" font-size="14" text-anchor="start" letter-spacing="0.2" >16</text>
<text x="561" y="115" font-size="14" text-anchor="end" letter-spacing="0.2" >14</text>
<text x="999.4" y="115" font-size="14" text-anchor="start" letter-spacing="0.2" >14</text>
<text x="561" y="127" font-size="14" text-anchor="end" letter-spacing="0.2" >12</text>
<text x="999.4" y="127" font-size="14" text-anchor="start" letter-spacing="0.2" >12</text>
<text x="561" y="139" font-size="14" text-anchor="end" letter-spacing="0.2" >10</text>
<text x="999.4" y="139" font-size="14" text-anchor="start" letter-spacing="0.2" >10</text>
<text x="561" y="151" font-size="14" text-anchor="end" letter-spacing="0.2" >8</text>
<text x="999.4" y="151" font-size="14" text-anchor="start" letter-spacing="0.2" >8</text>
<text x="561" y="163" font-size="14" text-anchor="end" letter-spacing="0.2" >6</text>
<text x="999.4" y="163" font-size="14" text-anchor="start" letter-spacing="0.2" >6</text>
<text x="561" y="175" font-size="14" text-anchor="end" letter-spacing="0.2" >4</text>
<text x="999.4" y="175" font-size="14" text-anchor="start" letter-spacing="0.2" >4</text>
<text x="561" y="187" font-size="14" text-anchor="end" letter-spacing="0.2" >2</text>
<text x="999.4" y="187" font-size="14" text-anchor="start" letter-spacing="0.2" >2</text>
<text x="561" y="199" font-size="14" text-anchor="end" letter-spacing="0.2" >0</text>
<text x="999.4" y="199" font-size="14" text-anchor="start" letter-spacing="0.2" >0</text>
<text x="563.35" y="210.5" font-size="14" text-anchor="start" letter-spacing="0.21">0</text>
<text x="598.35" y="210.5" font-size="14" text-anchor="start" letter-spacing="0.21">2</text>
<text x="634.35" y="210.5" font-size="14" text-anchor="start" letter-spacing="0.21">4</text>
<text x="669.35" y="210.5" font-size="14" text-anchor="start" letter-spacing="0.21">6</text>
<text x="705.35" y="210.5" font-size="14" text-anchor="start" letter-spacing="0.21">8</text>
<text x="736.35" y="210.5" font-size="14" text-anchor="start" letter-spacing="0.21">10</text>
<text x="772.35" y="210.5" font-size="14" text-anchor="start" letter-spacing="0.21">12</text>
<text x="807.35" y="210.5" font-size="14" text-anchor="start" letter-spacing="0.21">14</text>
<text x="842.35" y="210.5" font-size="14" text-anchor="start" letter-spacing="0.21">16</text>
<text x="878.35" y="210.5" font-size="14" text-anchor="start" letter-spacing="0.21">18</text>
<text x="913.35" y="210.5" font-size="14" text-anchor="start" letter-spacing="0.21">20</text>
<text x="949.35" y="210.5" font-size="14" text-anchor="start" letter-spacing="0.21">22</text>
<text x="984.35" y="210.5" font-size="14" text-anchor="start" letter-spacing="0.21">24</text>
<text x="54" y="256" font-size="14" text-anchor="end" letter-spacing="0.2" >100</text>
<text x="491.9" y="256" font-size="14" text-anchor="start" letter-spacing="0.2" >100</text>
<text x="54" y="268" font-size="14" text-anchor="end" letter-spacing="0.2" >90</text>
<text x="491.9" y="268" font-size="14" text-anchor="start" letter-spacing="0.2" >90</text>
<text x="54" y="280" font-size="14" text-anchor="end" letter-spacing="0.2" >80</text>
<text x="491.9" y="280" font-size="14" text-anchor="start" letter-spacing="0.2" >80</text>
<text x="54" y="292" font-size="14" text-anchor="end" letter-spacing="0.2" >70</text>
<text x="491.9" y="292" font-size="14" text-anchor="start" letter-spacing="0.2" >70</text>
<text x="54" y="304" font-size="14" text-anchor="end" letter-spacing="0.2" >60</text>
<text x="491.9" y="304" font-size="14" text-anchor="start" letter-spacing="0.2" >60</text>
<text x="54" y="316" font-size="14" text-anchor="end" letter-spacing="0.2" >50</text>
<text x="491.9" y="316" font-size="14" text-anchor="start" letter-spacing="0.2" >50</text>
<text x="54" y="328" font-size="14" text-anchor="end" letter-spacing="0.2" >40</text>
<text x="491.9" y="328" font-size="14" text-anchor="start" letter-spacing="0.2" >40</text>
<text x="54" y="340" font-size="14" text-anchor="end" letter-spacing="0.2" >30</text>
<text x="491.9" y="340" font-size="14" text-anchor="start" letter-spacing="0.2" >30</text>
<text x="54" y="352" font-size="14" text-anchor="end" letter-spacing="0.2" >20</text>
<text x="491.9" y="352" font-size="14" text-anchor="start" letter-spacing="0.2" >20</text>
<text x="54" y="364" font-size="14" text-anchor="end" letter-spacing="0.2" >10</text>
<text x="491.9" y="364" font-size="14" text-anchor="start" letter-spacing="0.2" >10</text>
<text x="54" y="376" font-size="14" text-anchor="end" letter-spacing="0.2" >0</text>
<text x="491.9" y="376" font-size="14" text-anchor="start" letter-spacing="0.2" >0</text>
<text x="56.35" y="387.5" font-size="14" text-anchor="start" letter-spacing="0.21">0</text>
<text x="92.35" y="387.5" font-size="14" text-anchor="start" letter-spacing="0.21">2</text>
<text x="127.35" y="387.5" font-size="14" text-anchor="start" letter-spacing="0.21">4</text>
<text x="163.35" y="387.5" font-size="14" text-anchor="start" letter-spacing="0.21">6</text>
<text x="198.35" y="387.5" font-size="14" text-anchor="start" letter-spacing="0.21">8</text>
<text x="229.35" y="387.5" font-size="14" text-anchor="start" letter-spacing="0.21">10</text>
<text x="265.35" y="387.5" font-size="14" text-anchor="start" letter-spacing="0.21">12</text>
<text x="300.35" y="387.5" font-size="14" text-anchor="start" letter-spacing="0.21">14</text>
<text x="336.35" y="387.5" font-size="14" text-anchor="start" letter-spacing="0.21">16</text>
<text x="371.35" y="387.5" font-size="14" text-anchor="start" letter-spacing="0.21">18</text>
<text x="407.35" y="387.5" font-size="14" text-anchor="start" letter-spacing="0.21">20</text>
<text x="442.35" y="387.5" font-size="14" text-anchor="start" letter-spacing="0.21">22</text>
<text x="478.35" y="387.5" font-size="14" text-anchor="start" letter-spacing="0.21">24</text>
<text x="561" y="256" font-size="14" text-anchor="end" letter-spacing="0.2" >360</text>
<text x="998.0" y="256" font-size="14" text-anchor="start" letter-spacing="0.2" >N</text>
<text x="561" y="271" font-size="14" text-anchor="end" letter-spacing="0.2" >315</text>
<text x="998.0" y="271" font-size="14" text-anchor="start" letter-spacing="0.2" >NW</text>
<text x="561" y="286" font-size="14" text-anchor="end" letter-spacing="0.2" >270</text>
<text x="998.0" y="286" font-size="14" text-anchor="start" letter-spacing="0.2" >W</text>
<text x="561" y="301" font-size="14" text-anchor="end" letter-spacing="0.2" >225</text>
<text x="998.0" y="301" font-size="14" text-anchor="start" letter-spacing="0.2" >SW</text>
<text x="561" y="316" font-size="14" text-anchor="end" letter-spacing="0.2" >180</text>
<text x="998.0" y="316" font-size="14" text-anchor="start" letter-spacing="0.2" >S</text>
<text x="561" y="331" font-size="14" text-anchor="end" letter-spacing="0.2" >135</text>
<text x="998.0" y="331" font-size="14" text-anchor="start" letter-spacing="0.2" >SE</text>
<text x="561" y="346" font-size="14" text-anchor="end" letter-spacing="0.2" >90</text>
<text x="998.0" y="346" font-size="14" text-anchor="start" letter-spacing="0.2" >E</text>
<text x="561" y="361" font-size="14" text-anchor="end" letter-spacing="0.2" >45</text>
<text x="998.0" y="361" font-size="14" text-anchor="start" letter-spacing="0.2" >NE</text>
<text x="561" y="376" font-size="14" text-anchor="end" letter-spacing="0.2" >0</text>
<text x="998.0" y="376" font-size="14" text-anchor="start" letter-spacing="0.2" >N</text>
<text x="563.35" y="387.5" font-size="14" text-anchor="start" letter-spacing="0.21">0</text>
<text x="598.35" y="387.5" font-size="14" text-anchor="start" letter-spacing="0.21">2</text>
<text x="634.35" y="387.5" font-size="14" text-anchor="start" letter-spacing="0.21">4</text>
<text x="669.35" y="387.5" font-size="14" text-anchor="start" letter-spacing="0.21">6</text>
<text x="705.35" y="387.5" font-size="14" text-anchor="start" letter-spacing="0.21">8</text>
<text x="736.35" y="387.5" font-size="14" text-anchor="start" letter-spacing="0.21">10</text>
<text x="772.35" y="387.5" font-size="14" text-anchor="start" letter-spacing="0.21">12</text>
<text x="807.35" y="387.5" font-size="14" text-anchor="start" letter-spacing="0.21">14</text>
<text x="842.35" y="387.5" font-size="14" text-anchor="start" letter-spacing="0.21">16</text>
<text x="878.35" y="387.5" font-size="14" text-anchor="start" letter-spacing="0.21">18</text>
<text x="913.35" y="387.5" font-size="14" text-anchor="start" letter-spacing="0.21">20</text>
<text x="949.35" y="387.5" font-size="14" text-anchor="start" letter-spacing="0.21">22</text>
<text x="984.35" y="387.5" font-size="14" text-anchor="start" letter-spacing="0.21">24</text>
<text x="54" y="442" font-size="14" text-anchor="end" letter-spacing="0.2" >1200</text>
<text x="54" y="461" font-size="14" text-anchor="end" letter-spacing="0.2" >1000</text>
<text x="54" y="479" font-size="14" text-anchor="end" letter-spacing="0.2" >800</text>
<text x="54" y="498" font-size="14" text-anchor="end" letter-spacing="0.2" >600</text>
<text x="54" y="516" font-size="14" text-anchor="end" letter-spacing="0.2" >400</text>
<text x="54" y="535" font-size="14" text-anchor="end" letter-spacing="0.2" >200</text>
<text x="54" y="553" font-size="14" text-anchor="end" letter-spacing="0.2" >0</text>
<text x="56.35" y="564.5" font-size="14" text-anchor="start" letter-spacing="0.21">0</text>
<text x="92.35" y="564.5" font-size="14" text-anchor="start" letter-spacing="0.21">2</text>
<text x="127.35" y="564.5" font-size="14" text-anchor="start" letter-spacing="0.21">4</text>
<text x="163.35" y="564.5" font-size="14" text-anchor="start" letter-spacing="0.21">6</text>
<text x="198.35" y="564.5" font-size="14" text-anchor="start" letter-spacing="0.21">8</text>
<text x="229.35" y="564.5" font-size="14" text-anchor="start" letter-spacing="0.21">10</text>
<text x="265.35" y="564.5" font-size="14" text-anchor="start" letter-spacing="0.21">12</text>
<text x="300.35" y="564.5" font-size="14" text-anchor="start" letter-spacing="0.21">14</text>
<text x="336.35" y="564.5" font-size="14" text-anchor="start" letter-spacing="0.21">16</text>
<text x="371.35" y="564.5" font-size="14" text-anchor="start" letter-spacing="0.21">18</text>
<text x="407.35" y="564.5" font-size="14" text-anchor="start" letter-spacing="0.21">20</text>
<text x="442.35" y="564.5" font-size="14" text-anchor="start" letter-spacing="0.21">22</text>
<text x="478.35" y="564.5" font-size="14" text-anchor="start" letter-spacing="0.21">24</text>
<text x="561" y="433" font-size="14" text-anchor="end" letter-spacing="0.2" >757.5</text>
<text x="561" y="450" font-size="14" text-anchor="end" letter-spacing="0.2" >757.0</text>
<text x="561" y="467" font-size="14" text-anchor="end" letter-spacing="0.2" >756.5</text>
<text x="561" y="484" font-size="14" text-anchor="end" letter-spacing="0.2" >756.0</text>
<text x="561" y="502" font-size="14" text-anchor="end" letter-spacing="0.2" >755.5</text>
<text x="561" y="519" font-size="14" text-anchor="end" letter-spacing="0.2" >755.0</text>
<text x="561" y="536" font-size="14" text-anchor="end" letter-spacing="0.2" >754.5</text>
<text x="561" y="553" font-size="14" text-anchor="end" letter-spacing="0.2" >754.0</text>
<text x="563.35" y="564.5" font-size="14" text-anchor="start" letter-spacing="0.21">0</text>
<text x="598.35" y="564.5" font-size="14" text-anchor="start" letter-spacing="0.21">2</text>
<text x="634.35" y="564.5" font-size="14" text-anchor="start" letter-spacing="0.21">4</text>
<text x="669.35" y="564.5" font-size="14" text-anchor="start" letter-spacing="0.21">6</text>
<text x="705.35" y="564.5" font-size="14" text-anchor="start" letter-spacing="0.21">8</text>
<text x="736.35" y="564.5" font-size="14" text-anchor="start" letter-spacing="0.21">10</text>
<text x="772.35" y="564.5" font-size="14" text-anchor="start" letter-spacing="0.21">12</text>
<text x="807.35" y="564.5" font-size="14" text-anchor="start" letter-spacing="0.21">14</text>
<text x="842.35" y="564.5" font-size="14" text-anchor="start" letter-spacing="0.21">16</text>
<text x="878.35" y="564.5" font-size="14" text-anchor="start" letter-spacing="0.21">18</text>
<text x="913.35" y="564.5" font-size="14" text-anchor="start" letter-spacing="0.21">20</text>
<text x="949.35" y="564.5" font-size="14" text-anchor="start" letter-spacing="0.21">22</text>
<text x="984.35" y="564.5" font-size="14" text-anchor="start" letter-spacing="0.21">24</text>
<text x="54" y="610" font-size="14" text-anchor="end" letter-spacing="0.2" >0.10</text>
<text x="491.9" y="610" font-size="14" text-anchor="start" letter-spacing="0.2" >0.10</text>
<text x="54" y="622" font-size="14" text-anchor="end" letter-spacing="0.2" >0.09</text>
<text x="491.9" y="622" font-size="14" text-anchor="start" letter-spacing="0.2" >0.09</text>
<text x="54" y="634" font-size="14" text-anchor="end" letter-spacing="0.2" >0.08</text>
<text x="491.9" y="634" font-size="14" text-anchor="start" letter-spacing="0.2" >0.08</text>
<text x="54" y="646" font-size="14" text-anchor="end" letter-spacing="0.2" >0.07</text>
<text x="491.9" y="646" font-size="14" text-anchor="start" letter-spacing="0.2" >0.07</text>
<text x="54" y="658" font-size="14" text-anchor="end" letter-spacing="0.2" >0.06</text>
<text x="491.9" y="658" font-size="14" text-anchor="start" letter-spacing="0.2" >0.06</text>
<text x="54" y="670" font-size="14" text-anchor="end" letter-spacing="0.2" >0.05</text>
<text x="491.9" y="670" font-size="14" text-anchor="start" letter-spacing="0.2" >0.05</text>
<text x="54" y="682" font-size="14" text-anchor="end" letter-spacing="0.2" >0.04</text>
<text x="491.9" y="682" font-size="14" text-anchor="start" letter-spacing="0.2" >0.04</text>
<text x="54" y="694" font-size="14" text-anchor="end" letter-spacing="0.2" >0.03</text>
<text x="491.9" y="694" font-size="14" text-anchor="start" letter-spacing="0.2" >0.03</text>
<text x="54" y="706" font-size="14" text-anchor="end" letter-spacing="0.2" >0.02</text>
<text x="491.9" y="706" font-size="14" text-anchor="start" letter-spacing="0.2" >0.02</text>
<text x="54" y="718" font-size="14" text-anchor="end" letter-spacing="0.2" >0.01</text>
<text x="491.9" y="718" font-size="14" text-anchor="start" letter-spacing="0.2" >0.01</text>
<text x="54" y="730" font-size="14" text-anchor="end" letter-spacing="0.2" >0.00</text>
<text x="491.9" y="730" font-size="14" text-anchor="start" letter-spacing="0.2" >0.00</text>
<text x="56.35" y="741.5" font-size="14" text-anchor="start" letter-spacing="0.21">0</text>
<text x="92.35" y="741.5" font-size="14" text-anchor="start" letter-spacing="0.21">2</text>
<text x="127.35" y="741.5" font-size="14" text-anchor="start" letter-spacing="0.21">4</text>
<text x="163.35" y="741.5" font-size="14" text-anchor="start" letter-spacing="0.21">6</text>
<text x="198.35" y="741.5" font-size="14" text-anchor="start" letter-spacing="0.21">8</text>
<text x="229.35" y="741.5" font-size="14" text-anchor="start" letter-spacing="0.21">10</text>
<text x="265.35" y="741.5" font-size="14" text-anchor="start" letter-spacing="0.21">12</text>
<text x="300.35" y="741.5" font-size="14" text-anchor="start" letter-spacing="0.21">14</text>
<text x="336.35" y="741.5" font-size="14" text-anchor="start" letter-spacing="0.21">16</text>
<text x="371.35" y="741.5" font-size="14" text-anchor="start" letter-spacing="0.21">18</text>
<text x="407.35" y="741.5" font-size="14" text-anchor="start" letter-spacing="0.21">20</text>
<text x="442.35" y="741.5" font-size="14" text-anchor="start" letter-spacing="0.21">22</text>
<text x="478.35" y="741.5" font-size="14" text-anchor="start" letter-spacing="0.21">24</text>
</g>
<g transform="translate(34,134) rotate(-90)"><g filter="url(#thv)"><text x="-33" font-size="14" text-anchor="start">Fahrenheit</text></g></g>
<g transform="translate(541,134) rotate(-90)"><g filter="url(#thv)"><text x="-31.8" font-size="14" text-anchor="start">miles/hour</text></g></g>
<g transform="translate(34,312) rotate(-90)"><g filter="url(#thv)"><text x="-23.4" font-size="14" text-anchor="start">Percent</text></g></g>
<g transform="translate(530,311) rotate(-90)"><g filter="url(#thv)"><text x="-25" font-size="14" text-anchor="start">degrees</text></g></g>
<g transform="translate(19,488) rotate(-90)"><g filter="url(#thv)"><text x="-17" font-size="14" text-anchor="start">W/m<tspan font-size="10" dy="-7">2</tspan></text></g></g>
<g transform="translate(521,488) rotate(-90)"><g filter="url(#thv)"><text x="-25.8" font-size="14" text-anchor="start">millibars</text></g></g>
<g transform="translate(22,665) rotate(-90)"><g filter="url(#thv)"><text x="-20.6" font-size="14" text-anchor="start">Inches</text></g></g>
</svg></body></html>
